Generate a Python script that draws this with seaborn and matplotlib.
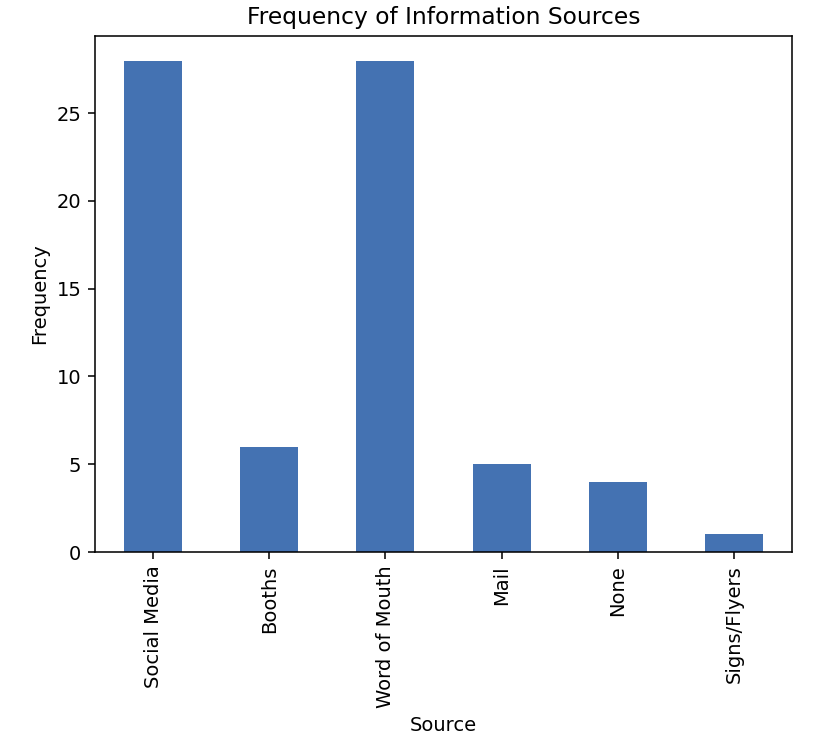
import matplotlib
matplotlib.use("Agg")
import matplotlib.pyplot as plt
import seaborn as sns
import pandas as pd

sources = ["Social Media", "Booths", "Word of Mouth", "Mail", "None", "Signs/Flyers"]
counts = [28, 6, 28, 5, 4, 1]

df = pd.DataFrame({"Source": sources, "Frequency": counts})

DPI = 140
plt.rcParams["font.family"] = ["DejaVu Sans"]
fig = plt.figure(figsize=(814 / DPI, 756 / DPI), dpi=DPI)
ax = fig.add_axes([95 / 814, 1 - 552 / 756, (792 - 95) / 814, (552 - 36) / 756])

sns.barplot(data=df, x="Source", y="Frequency", color="#4472b2", width=0.5,
            saturation=1, ax=ax)
ax.set_xlim(-0.5, 5.5)
ax.set_ylim(0, 29.4)
ax.set_yticks([0, 5, 10, 15, 20, 25])
ax.tick_params(axis="x", labelrotation=90)
ax.set_title("Frequency of Information Sources", fontsize=12)
ax.set_xlabel("Source")
ax.set_ylabel("Frequency")

fig.savefig("out.png", dpi=DPI)
